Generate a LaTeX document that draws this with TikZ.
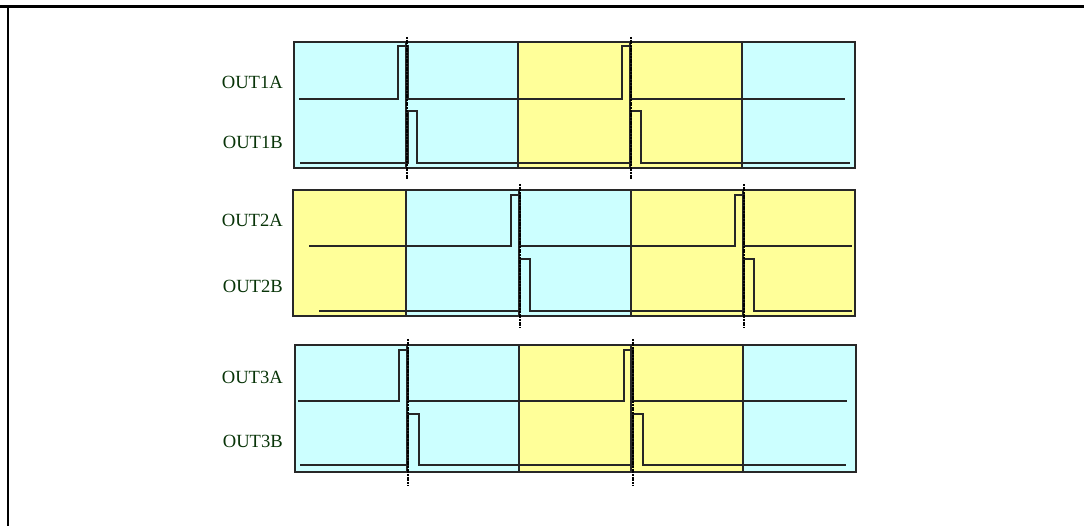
\documentclass[tikz,border=0pt]{standalone}
\usepackage{fontspec}
\setmainfont{Liberation Serif}
\definecolor{cellcyan}{RGB}{204,255,255}
\definecolor{cellyellow}{RGB}{255,255,153}
\definecolor{labelgreen}{RGB}{8,52,8}
\definecolor{celledge}{RGB}{40,40,40}
\tikzset{
  cell/.style={draw=celledge, line width=1.1pt},
  sig/.style={draw=black!85, line width=1.4pt, line join=miter},
  timing/.style={draw=black, line width=1.9pt, dash pattern=on 2pt off 0.7pt},
  siglabel/.style={anchor=east, inner sep=0pt, text=labelgreen, font=\fontsize{18.6}{21}\selectfont},
  frameline/.style={draw=black, line width=1.1pt},
  topline/.style={draw=black, line width=3pt}
}
\begin{document}
\begin{tikzpicture}[x=1pt,y=-1pt]
\useasboundingbox (0,0) rectangle (1084,526);
% frame
\draw[topline] (0,7) -- (1084,7);
\draw[frameline] (8,7) -- (8,526);

% ---------- panel 1 ----------
\foreach \a/\b/\c in {294/406/cellcyan,406/518/cellcyan,518/630/cellyellow,630/742/cellyellow,742/855/cellcyan}
  \draw[cell, fill=\c] (\a,42) rectangle (\b,168);
\draw[sig] (299,99) -- (398,99) -- (398,46) -- (408,46) -- (408,99) -- (622,99) -- (622,46) -- (631,46) -- (631,99) -- (845,99);
\draw[sig] (300,163) -- (408,163) -- (408,111) -- (417,111) -- (417,163) -- (631,163) -- (631,111) -- (641,111) -- (641,163) -- (850,163);
\draw[timing] (407,37) -- (407,180);
\draw[timing] (631,37) -- (631,180);
\node[siglabel] (l1a) at (283,82) {OUT1A};
\node[siglabel] (l1b) at (283,142) {OUT1B};

% ---------- panel 2 ----------
\foreach \a/\b/\c in {293/406/cellyellow,406/519/cellcyan,519/631/cellcyan,631/743/cellyellow,743/855/cellyellow}
  \draw[cell, fill=\c] (\a,190) rectangle (\b,316);
\draw[sig] (309,246) -- (511,246) -- (511,195) -- (520,195) -- (520,246) -- (735,246) -- (735,195) -- (744,195) -- (744,246) -- (852,246);
\draw[sig] (319,311) -- (520,311) -- (520,259) -- (530,259) -- (530,311) -- (744,311) -- (744,259) -- (754,259) -- (754,311) -- (852,311);
\draw[timing] (520,184) -- (520,328);
\draw[timing] (744,184) -- (744,328);
\node[siglabel] (l2a) at (283,220) {OUT2A};
\node[siglabel] (l2b) at (283,286) {OUT2B};

% ---------- panel 3 ----------
\foreach \a/\b/\c in {295/407/cellcyan,407/519/cellcyan,519/631/cellyellow,631/743/cellyellow,743/856/cellcyan}
  \draw[cell, fill=\c] (\a,345) rectangle (\b,472);
\draw[sig] (298,401) -- (399,401) -- (399,350) -- (408,350) -- (408,401) -- (624,401) -- (624,350) -- (633,350) -- (633,401) -- (847,401);
\draw[sig] (300,465) -- (408,465) -- (408,414) -- (419,414) -- (419,465) -- (633,465) -- (633,414) -- (643,414) -- (643,465) -- (846,465);
\draw[timing] (408,339) -- (408,485);
\draw[timing] (633,339) -- (633,485);
\node[siglabel] (l3a) at (283,377) {OUT3A};
\node[siglabel] (l3b) at (283,441) {OUT3B};
\end{tikzpicture}
\end{document}
